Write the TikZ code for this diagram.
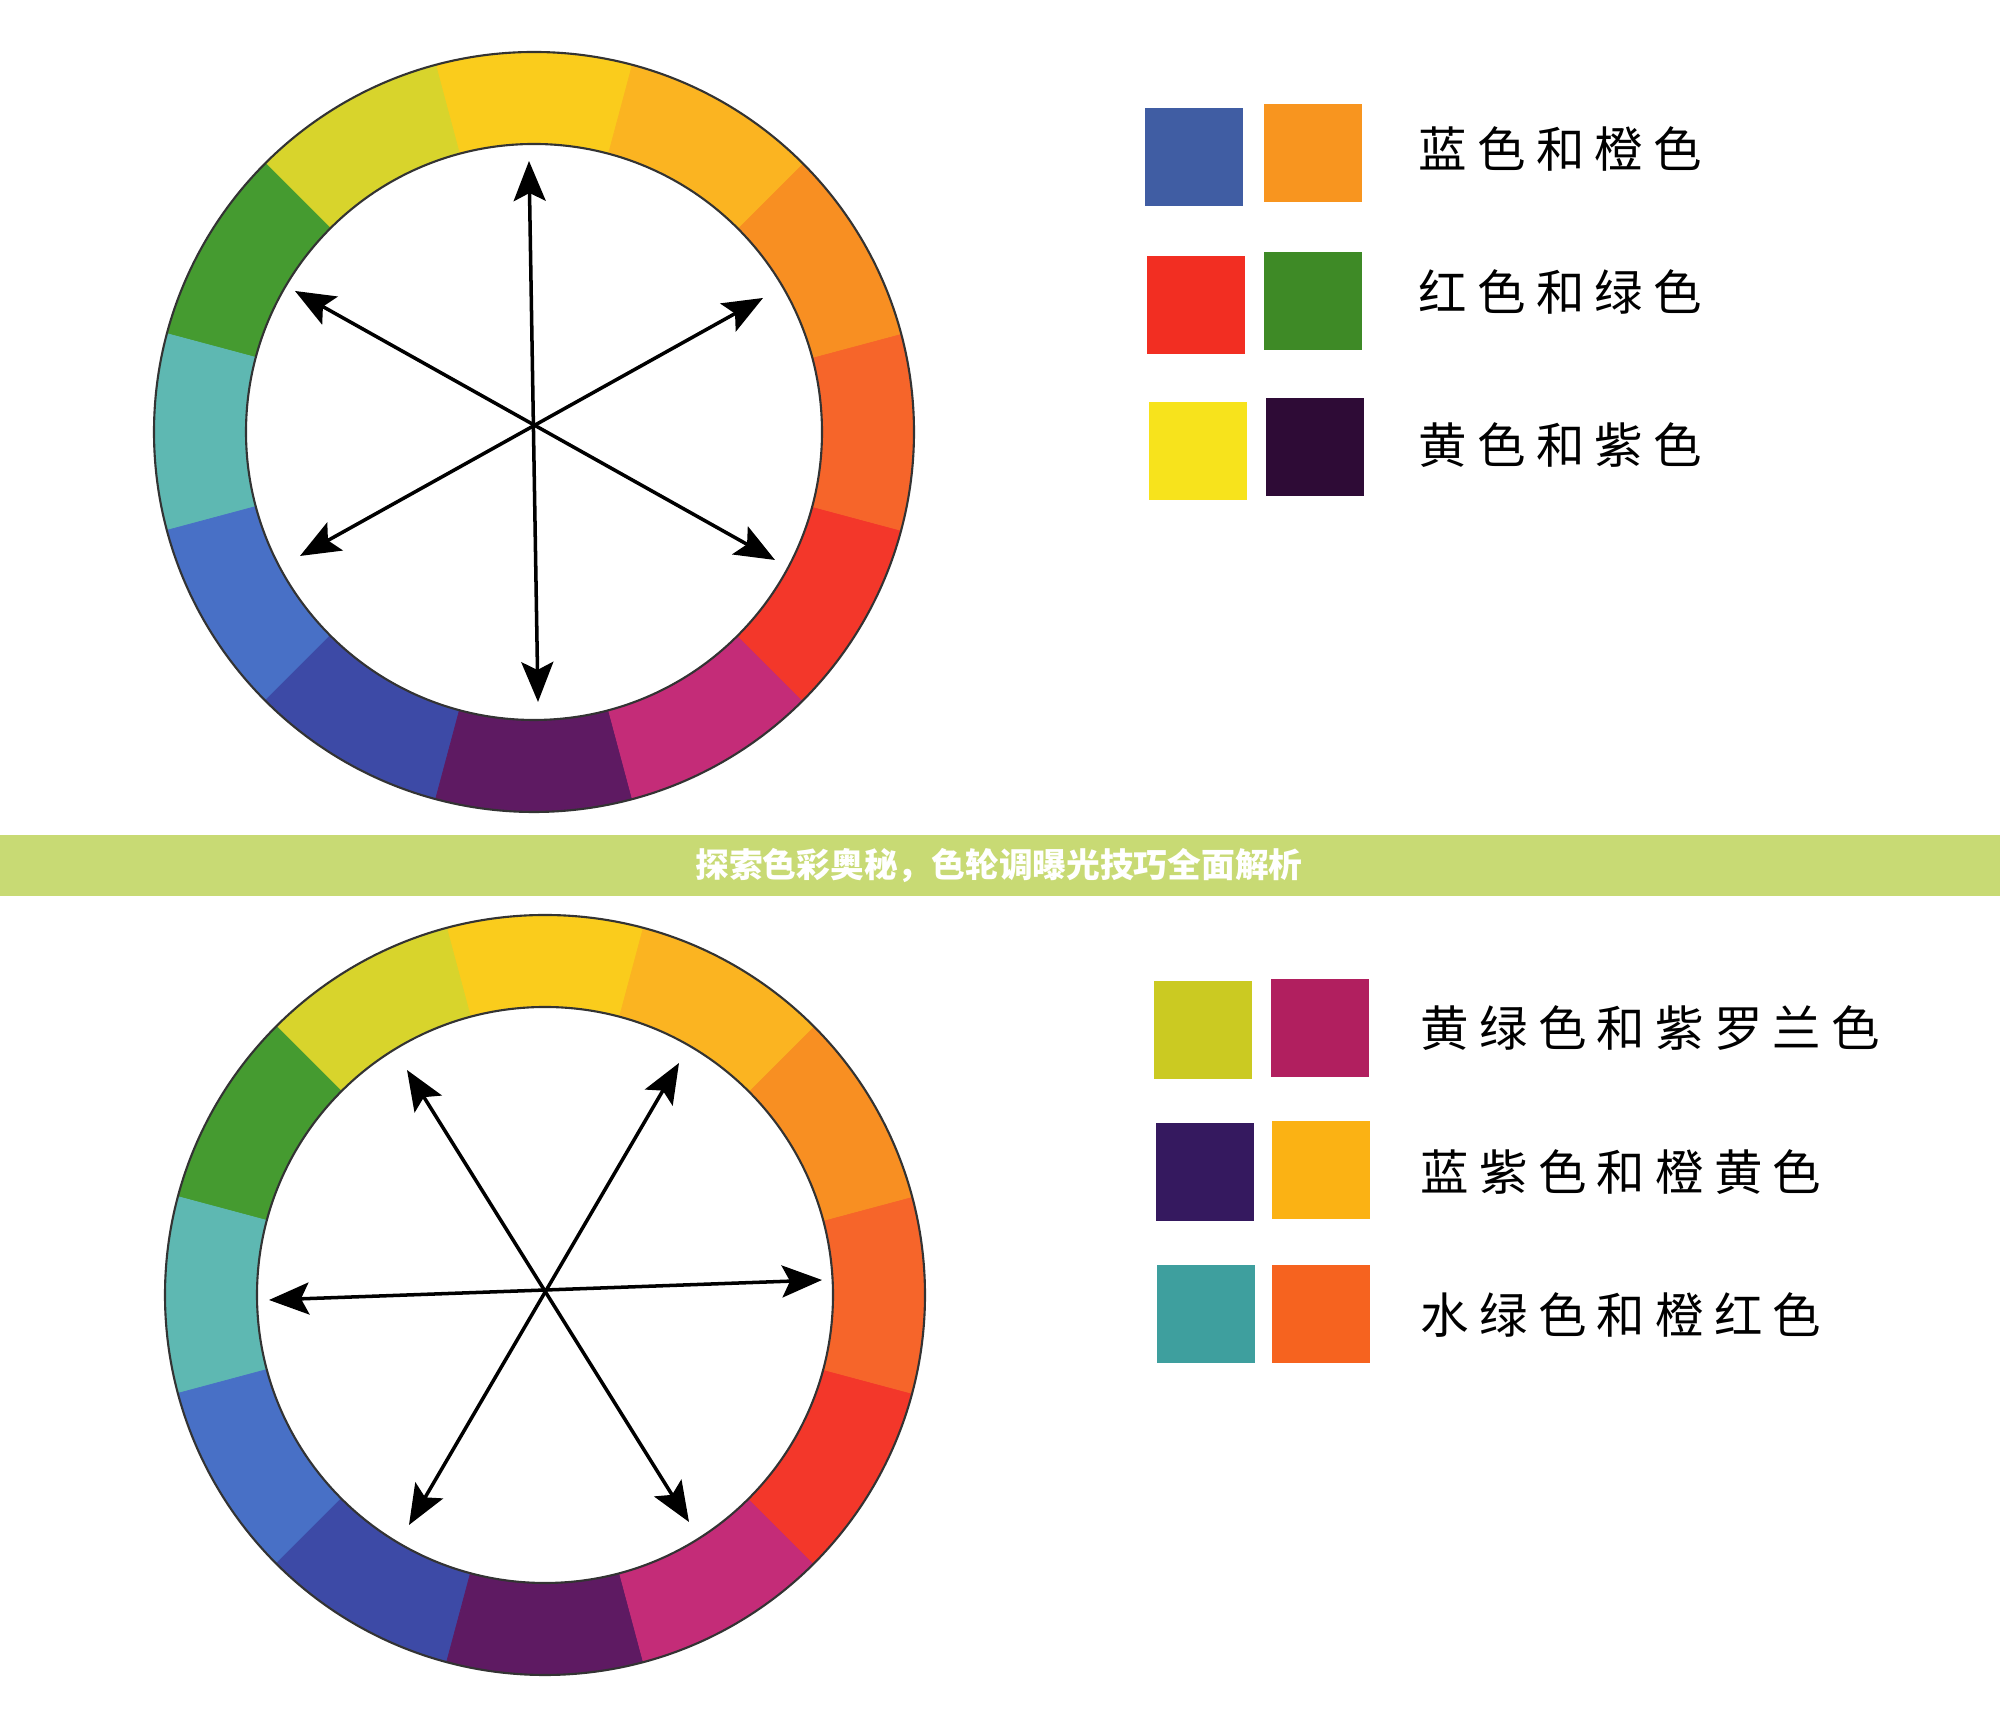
\documentclass[tikz,border=0pt]{standalone}
\usepackage{fontspec}
\newfontfamily\cjk[LetterSpace=21]{Noto Sans CJK SC}
\newfontfamily\cjkhead{Noto Sans CJK SC}
\usepackage{xcolor}
\usepackage{tikz}
\usetikzlibrary{arrows.meta}
% wheel colours
\definecolor{cY}{HTML}{FACC1C}
\definecolor{cYG}{HTML}{D8D42C}
\definecolor{cG}{HTML}{459B30}
\definecolor{cT}{HTML}{5EB8B2}
\definecolor{cB}{HTML}{4870C6}
\definecolor{cBV}{HTML}{3D4AA6}
\definecolor{cV}{HTML}{5E1A62}
\definecolor{cRV}{HTML}{C42C78}
\definecolor{cR}{HTML}{F3372A}
\definecolor{cRO}{HTML}{F6652A}
\definecolor{cO}{HTML}{F88F22}
\definecolor{cYO}{HTML}{FBB421}
% swatch colours
\definecolor{sBlue}{HTML}{405DA3}
\definecolor{sOrange}{HTML}{F8951F}
\definecolor{sRed}{HTML}{F22E22}
\definecolor{sGreen}{HTML}{3E8A26}
\definecolor{sYellow}{HTML}{F7E31C}
\definecolor{sPurple}{HTML}{2E0B36}
\definecolor{sYG}{HTML}{CBCA22}
\definecolor{sMag}{HTML}{B11F5F}
\definecolor{sIndigo}{HTML}{35195F}
\definecolor{sYO}{HTML}{FBB214}
\definecolor{sTeal}{HTML}{3E9F9E}
\definecolor{sOR}{HTML}{F6631F}
\definecolor{band}{HTML}{C8DA74}
\def\ro{3.8}
\def\ri{2.88}
\tikzset{
  rim/.style={draw=black!80, line width=0.6pt},
  arr/.style={draw=black, line width=1pt, line cap=round,
    {Stealth[length=4mm,width=3.2mm,inset=0.8mm]}-{Stealth[length=4mm,width=3.2mm,inset=0.8mm]}},
  sw/.style={minimum width=0.98cm, minimum height=0.98cm, inner sep=0pt},
  lab/.style={anchor=west, inner sep=0pt, text=black, font=\cjk\fontsize{13.8}{16}\selectfont},
  head/.style={text=white, inner sep=0pt, font=\cjkhead\bfseries\fontsize{9.6}{11}\selectfont},
  wheel/.pic={
    \foreach \c [count=\i from 0] in {cY,cYG,cG,cT,cB,cBV,cV,cRV,cR,cRO,cO,cYO}{
      \pgfmathsetmacro\a{75+30*\i}
      \fill[\c, draw=\c, line width=0.2pt] (\a:\ro) arc[start angle=\a, delta angle=30, radius=\ro]
        -- ({\a+30}:\ri) arc[start angle=\a+30, delta angle=-30, radius=\ri] -- cycle;
    }
    \draw[rim] (0,0) circle (\ro) (0,0) circle (\ri);
  },
}
\begin{document}
\begin{tikzpicture}
  \fill[white] (0,0) rectangle (20,17.32);
  \useasboundingbox (0,0) rectangle (20,17.32);

  % upper wheel
  \pic at (5.34,13.00) {wheel};
  \coordinate (UT) at (5.29,15.71);
  \coordinate (UB) at (5.38,10.30);
  \coordinate (UUL) at (2.95,14.41);
  \coordinate (ULR) at (7.75,11.72);
  \coordinate (UUR) at (7.63,14.34);
  \coordinate (ULL) at (3.00,11.76);
  \draw[arr] (UT) -- (UB);
  \draw[arr] (UUL) -- (ULR);
  \draw[arr] (UUR) -- (ULL);

  % upper swatches
  \node[sw, fill=sBlue] (s11) at (11.94,15.75) {};
  \node[sw, fill=sOrange] (s12) at (13.125,15.79) {};
  \node[lab] (t1) at (14.18,15.83) {蓝色和橙色};
  \node[sw, fill=sRed] (s21) at (11.955,14.27) {};
  \node[sw, fill=sGreen] (s22) at (13.13,14.31) {};
  \node[lab] (t2) at (14.18,14.40) {红色和绿色};
  \node[sw, fill=sYellow] (s31) at (11.975,12.805) {};
  \node[sw, fill=sPurple] (s32) at (13.145,12.845) {};
  \node[lab] (t3) at (14.18,12.87) {黄色和紫色};

  % title band
  \fill[band] (0,8.355) rectangle (20,8.965);
  \node[head] (title) at (9.99,8.66) {探索色彩奥秘，色轮调曝光技巧全面解析};

  % lower wheel
  \pic at (5.45,4.37) {wheel};
  \coordinate (LL) at (2.69,4.32);
  \coordinate (LR) at (8.22,4.52);
  \coordinate (LUL) at (4.07,6.62);
  \coordinate (LLR) at (6.89,2.10);
  \coordinate (LUR) at (6.79,6.69);
  \coordinate (LLL) at (4.09,2.07);
  \draw[arr] (LL) -- (LR);
  \draw[arr] (LUL) -- (LLR);
  \draw[arr] (LUR) -- (LLL);

  % lower swatches
  \node[sw, fill=sYG] (s41) at (12.025,7.02) {};
  \node[sw, fill=sMag] (s42) at (13.195,7.035) {};
  \node[lab] (t4) at (14.20,7.04) {黄绿色和紫罗兰色};
  \node[sw, fill=sIndigo] (s51) at (12.045,5.60) {};
  \node[sw, fill=sYO] (s52) at (13.205,5.615) {};
  \node[lab] (t5) at (14.20,5.60) {蓝紫色和橙黄色};
  \node[sw, fill=sTeal] (s61) at (12.055,4.18) {};
  \node[sw, fill=sOR] (s62) at (13.21,4.18) {};
  \node[lab] (t6) at (14.20,4.17) {水绿色和橙红色};
\end{tikzpicture}
\end{document}
